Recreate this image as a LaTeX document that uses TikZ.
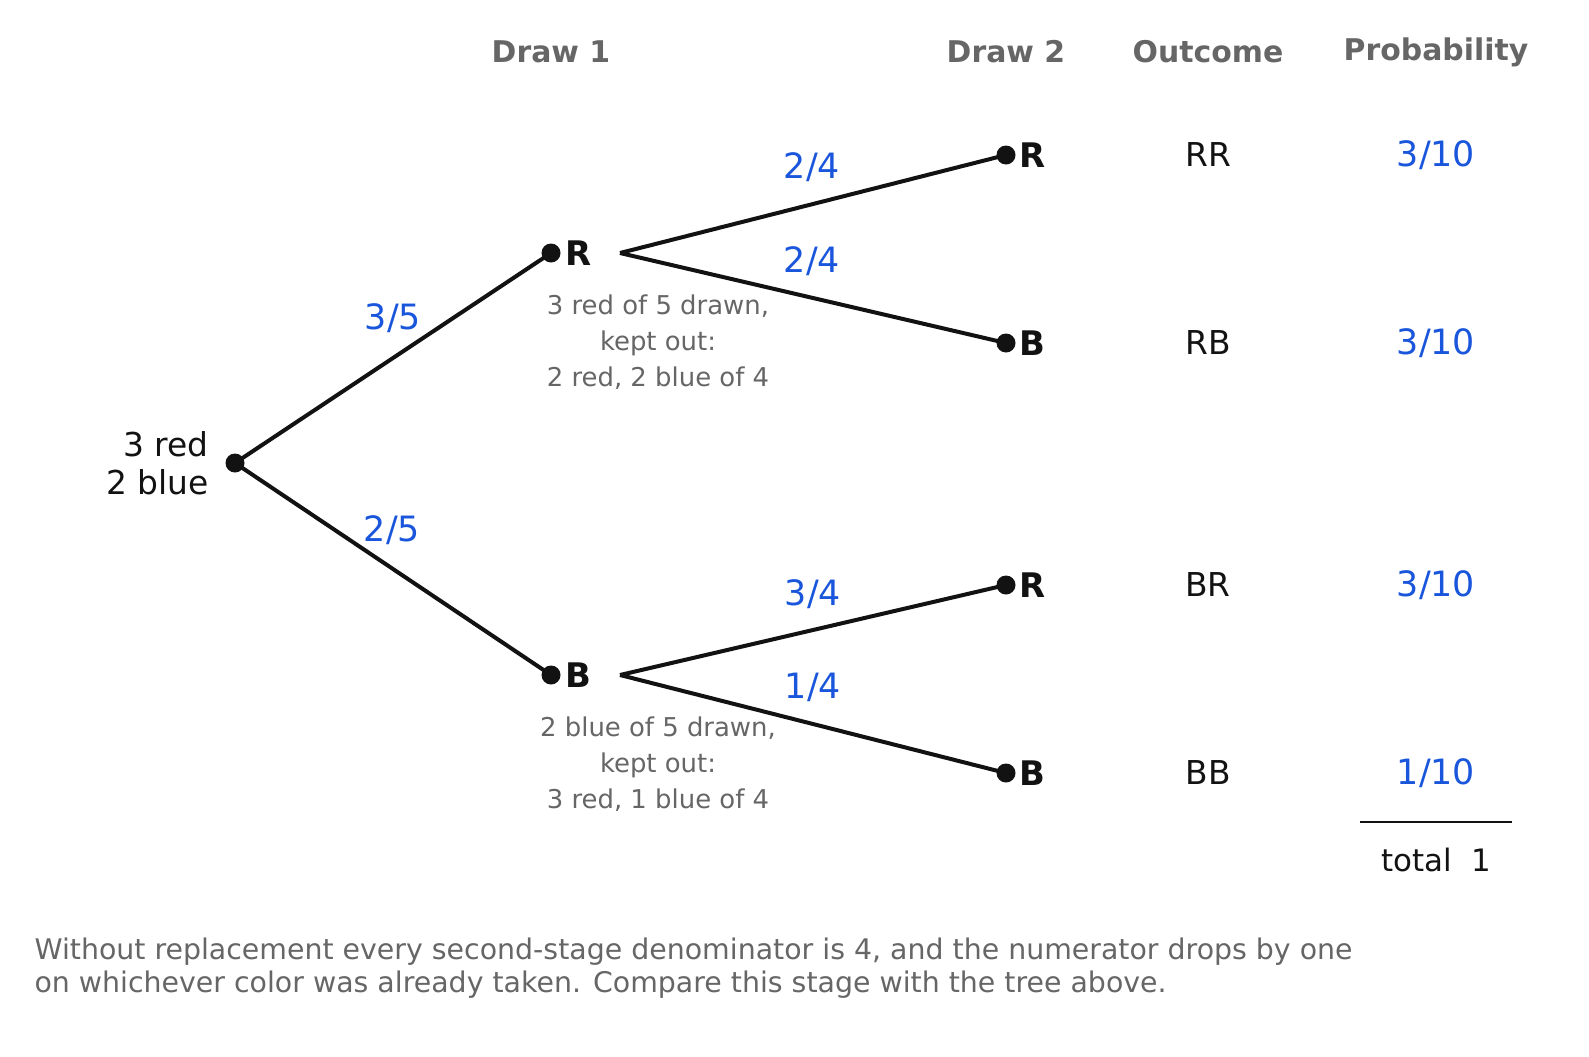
\documentclass[tikz,border=0pt]{standalone}
\usepackage{fontspec}
\setmainfont{DejaVu Sans}
\begin{document}
\begin{tikzpicture}[x=1bp,y=-1bp,
  fs/.style={font=\fontsize{#1}{#1}\selectfont},
  hdr/.style={font=\fontsize{30}{30}\selectfont\bfseries},
  prob/.style={fs=35},
  lab/.style={text=black!93,font=\fontsize{34}{34}\selectfont\bfseries,anchor=west},
  outc/.style={text=black!93,fs=33},
  note/.style={font=\fontsize{26}{36}\selectfont,align=center},
  dot/.style={circle,fill=black!93,inner sep=0pt,minimum size=19bp},
  br/.style={line width=4bp,black!93}]
\useasboundingbox (0,0) rectangle (1589,1056);
\definecolor{pb}{HTML}{1A56DB}
\definecolor{gr}{HTML}{666666}
\node[hdr,text=gr] (h1) at (551,52) {Draw 1};
\node[hdr,text=gr] (h2) at (1006,52) {Draw 2};
\node[hdr,text=gr] (h3) at (1208,52) {Outcome};
\node[hdr,text=gr] (h4) at (1436,52) {Probability};
\node[dot] (r) at (235,463) {};
\node[font=\fontsize{33}{38}\selectfont,align=right,anchor=east,text=black!93] (rl) at (212,463) {3 red\\2 blue};
\node[dot] (a) at (551,253) {};
\node[dot] (b) at (551,675) {};
\node[lab] (al) at (562,253) {R};
\node[lab] (bl) at (562,675) {B};
\coordinate (as) at (620,253);
\coordinate (bs) at (620,675);
\node[dot] (rr) at (1006,155) {};
\node[dot] (rb) at (1006,343) {};
\node[dot] (brr) at (1006,585) {};
\node[dot] (bbb) at (1006,773) {};
\node[lab] at (1016,155) {R};
\node[lab] at (1016,343) {B};
\node[lab] at (1016,585) {R};
\node[lab] at (1016,773) {B};
\draw[br] (r.center) -- (a.center);
\draw[br] (r.center) -- (b.center);
\draw[br] (as) -- (rr.center);
\draw[br] (as) -- (rb.center);
\draw[br] (bs) -- (brr.center);
\draw[br] (bs) -- (bbb.center);
\node[prob,text=pb] at (393,318) {3/5};
\node[prob,text=pb] at (392,530) {2/5};
\node[prob,text=pb] at (812,167) {2/4};
\node[prob,text=pb] at (812,261) {2/4};
\node[prob,text=pb] at (813,594) {3/4};
\node[prob,text=pb] at (813,687) {1/4};
\node[note,text=gr] (n1) at (658,342) {3 red of 5 drawn,\\kept out:\\2 red, 2 blue of 4};
\node[note,text=gr] (n2) at (658,764) {2 blue of 5 drawn,\\kept out:\\3 red, 1 blue of 4};
\node[outc] at (1208,155) {RR};
\node[outc] at (1208,343) {RB};
\node[outc] at (1208,585) {BR};
\node[outc] at (1208,773) {BB};
\node[prob,text=pb] at (1436,155) {3/10};
\node[prob,text=pb] at (1436,343) {3/10};
\node[prob,text=pb] at (1436,585) {3/10};
\node[prob,text=pb] at (1436,773) {1/10};
\draw[line width=2.5bp,black!93] (1360,822) -- (1512,822);
\node[outc,fs=31] at (1436,860) {total\ \ 1};
\node[font=\fontsize{28.5}{33}\selectfont,text=gr,anchor=west,align=left] at (31,968) {Without replacement every second-stage denominator is 4, and the numerator drops by one\\on whichever color was already taken. Compare this stage with the tree above.};
\end{tikzpicture}
\end{document}
